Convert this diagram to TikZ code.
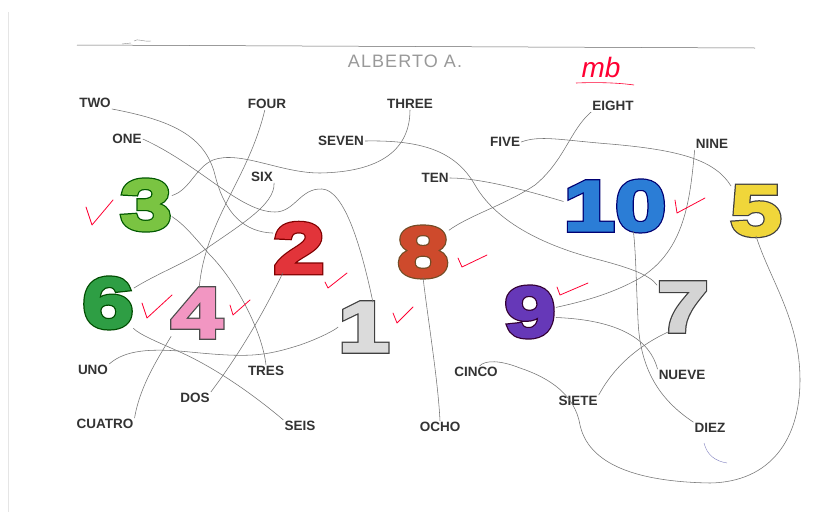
\documentclass[tikz,border=0pt]{standalone}
\usepackage{fontspec}
\setmainfont{Liberation Sans}
\newfontfamily\wordfont{Liberation Sans Bold}
\newfontfamily\digitfill{Liberation Sans Bold}[FakeBold=3.5,FakeStretch=1.3]
\newfontfamily\digitedge{Liberation Sans Bold}[FakeBold=7,FakeStretch=1.3]

\tikzset{
  word/.style={font=\wordfont\fontsize{13.5}{14}\selectfont, text=black!80, inner sep=1pt},
  wire/.style={draw=black!55, line width=0.55pt},
  tickmark/.style={draw=red!80!magenta, line width=0.8pt, line cap=round, line join=round},
  numedge/.style={font=\digitedge\fontsize{71}{71}\selectfont, inner sep=0pt},
  numfill/.style={font=\digitfill\fontsize{71}{71}\selectfont, inner sep=0pt},
}

\begin{document}
\begin{tikzpicture}[x=1pt, y=-1pt]
    \useasboundingbox (0,0) rectangle (814,512);
    \fill[white] (0,0) rectangle (814,512);
    \draw[black!10] (8,512) -- (8,12);

    % Header
    \draw[black!60, line width=0.5pt] (77,45) -- (755,48);
    \draw[black!45, line width=0.4pt] (122,44) -- (131,43) (134,41) .. controls (138,38) and (142,42) .. (151,41);
    \node[text=black!40, font=\fontsize{18}{18}\selectfont\addfontfeature{LetterSpace=6}] (name) at (405,61) {ALBERTO A.};
    \node[text=red!80!magenta, font=\fontsize{28}{28}\selectfont\itshape] (mark) at (601,67) {mb};
    \draw[red!80!magenta, line width=0.6pt] (576,83) .. controls (600,82) and (620,83) .. (634,85);

    % English words
    \node[word] (two)   at (95,103)  {TWO};
    \node[word] (one)   at (127,139) {ONE};
    \node[word] (four)  at (267,104) {FOUR};
    \node[word] (three) at (410,104) {THREE};
    \node[word] (seven) at (341,141) {SEVEN};
    \node[word] (six)   at (262,177) {SIX};
    \node[word] (eight) at (613,106) {EIGHT};
    \node[word] (five)  at (505,142) {FIVE};
    \node[word] (nine)  at (712,144) {NINE};
    \node[word] (ten)   at (435,178) {TEN};

    % Spanish words
    \node[word] (uno)    at (93,370)  {UNO};
    \node[word] (tres)   at (266,371) {TRES};
    \node[word] (dos)    at (195,398) {DOS};
    \node[word] (cuatro) at (105,424) {CUATRO};
    \node[word] (seis)   at (300,426) {SEIS};
    \node[word] (cinco)  at (476,372) {CINCO};
    \node[word] (siete)  at (578,401) {SIETE};
    \node[word] (nueve)  at (682,375) {NUEVE};
    \node[word] (diez)   at (710,428) {DIEZ};
    \node[word] (ocho)   at (440,427) {OCHO};

    % Big numbers (dark edge under the coloured fill)
    \node[numedge, text=green!35!black]  (d3)  at (146,205) {3};
    \node[numedge, text=red!50!black]    (d2)  at (299,248) {2};
    \node[numedge, text=brown!60!black]  (d8)  at (423,252) {8};
    \node[numedge, text=blue!45!black]   (d10) at (615,206) {10};
    \node[numedge, text=black!75]        (d5)  at (756,211) {5};
    \node[numedge, text=green!30!black]  (d6)  at (108,303) {6};
    \node[numedge, text=black!70]        (d4)  at (197,313) {4};
    \node[numedge, text=black!75]        (d1)  at (364,327) {1};
    \node[numedge, text=violet!40!black] (d9)  at (530,312) {9};
    \node[numedge, text=black!75]        (d7)  at (683,307) {7};

    \node[numfill, text={rgb,255:red,122;green,196;blue,66}]  (f3)  at (d3)  {3};
    \node[numfill, text={rgb,255:red,226;green,52;blue,58}]   (f2)  at (d2)  {2};
    \node[numfill, text={rgb,255:red,206;green,74;blue,44}]   (f8)  at (d8)  {8};
    \node[numfill, text={rgb,255:red,43;green,125;blue,214}]  (f10) at (d10) {10};
    \node[numfill, text={rgb,255:red,240;green,214;blue,58}]  (f5)  at (d5)  {5};
    \node[numfill, text={rgb,255:red,46;green,158;blue,68}]   (f6)  at (d6)  {6};
    \node[numfill, text={rgb,255:red,242;green,150;blue,194}] (f4)  at (d4)  {4};
    \node[numfill, text=black!14]                             (f1)  at (d1)  {1};
    \node[numfill, text={rgb,255:red,102;green,56;blue,184}]  (f9)  at (d9)  {9};
    \node[numfill, text=black!17]                             (f7)  at (d7)  {7};

    % Lines from the English words
    \draw[wire] (two.south east) .. controls (170,120) and (205,135) .. (215,175)
        .. controls (225,215) and (245,232) .. (d2.150);
    \draw[wire] (one.east) .. controls (200,165) and (240,212) .. (275,212)
        .. controls (295,212) and (300,188) .. (322,189)
        .. controls (345,190) and (362,250) .. (d1.70);
    \draw[wire] (three.south) .. controls (410,150) and (380,172) .. (320,173)
        .. controls (280,173) and (240,150) .. (213,160)
        .. controls (195,168) and (190,190) .. (d3.20);
    \draw[wire] (four.250) .. controls (248,180) and (205,220) .. (d4.85);
    \draw[wire] (seven.east) .. controls (420,140) and (455,150) .. (475,185)
        .. controls (495,220) and (540,245) .. (600,260)
        .. controls (630,268) and (650,275) .. (d7.140);
    \draw[wire] (eight.south west) .. controls (570,130) and (565,160) .. (535,185)
        .. controls (505,205) and (470,215) .. (d8.40);
    \draw[wire] (five.east) .. controls (540,135) and (560,140) .. (610,144)
        .. controls (680,150) and (715,160) .. (d5.135);
    \draw[wire] (nine.south west) .. controls (690,200) and (685,250) .. (640,278)
        .. controls (610,295) and (580,302) .. (d9.10);
    \draw[wire] (six.south east) .. controls (275,205) and (240,225) .. (200,253)
        .. controls (180,265) and (155,275) .. (d6.30);
    \draw[wire] (ten.east) .. controls (480,178) and (525,190) .. (d10.175);

    % Lines from the Spanish words
    \draw[wire] (uno.north east) .. controls (125,350) and (150,348) .. (190,352)
        .. controls (250,358) and (265,356) .. (300,345)
        .. controls (320,338) and (335,330) .. (d1.west);
    \draw[wire] (dos.north east) .. controls (235,360) and (260,320) .. (d2.237);
    \draw[wire] (tres.north) .. controls (262,330) and (235,280) .. (210,255)
        .. controls (195,238) and (185,225) .. (d3.-24);
    \draw[wire] (cuatro.north east) .. controls (140,385) and (160,355) .. (d4.222);
    \draw[wire] (seis.north west) .. controls (260,400) and (220,370) .. (180,352)
        .. controls (160,343) and (140,335) .. (d6.-45);
    \draw[wire] (ocho.north) .. controls (438,380) and (428,320) .. (d8.south);
    \draw[wire] (cinco.60) .. controls (485,360) and (500,360) .. (520,368)
        .. controls (550,378) and (575,395) .. (580,425)
        .. controls (590,470) and (650,482) .. (710,483)
        .. controls (770,482) and (800,440) .. (800,380)
        .. controls (800,320) and (770,280) .. (d5.south);
    \draw[wire] (siete.north east) .. controls (615,365) and (640,345) .. (d7.240);
    \draw[wire] (nueve.north west) .. controls (650,340) and (620,320) .. (d9.-12);
    \draw[wire] (diez.north west) .. controls (660,400) and (640,370) .. (638,320)
        .. controls (636,280) and (636,255) .. (d10.-54);
    \draw[blue!50!black!50, line width=0.4pt] (704,443) .. controls (707,455) and (715,461) .. (727,463);

    % Ticks
    \draw[tickmark] (86,207) -- (92,225) -- (113,200);
    \draw[tickmark] (142,303) -- (147,318) -- (172,295);
    \draw[tickmark] (230,305) -- (233,315) -- (250,300);
    \draw[tickmark] (325,282) -- (328,288) -- (347,273);
    \draw[tickmark] (393,313) -- (397,323) -- (413,307);
    \draw[tickmark] (458,258) -- (462,267) -- (487,255);
    \draw[tickmark] (557,287) -- (560,295) -- (588,283);
    \draw[tickmark] (675,200) -- (677,213) -- (705,198);
\end{tikzpicture}
\end{document}
